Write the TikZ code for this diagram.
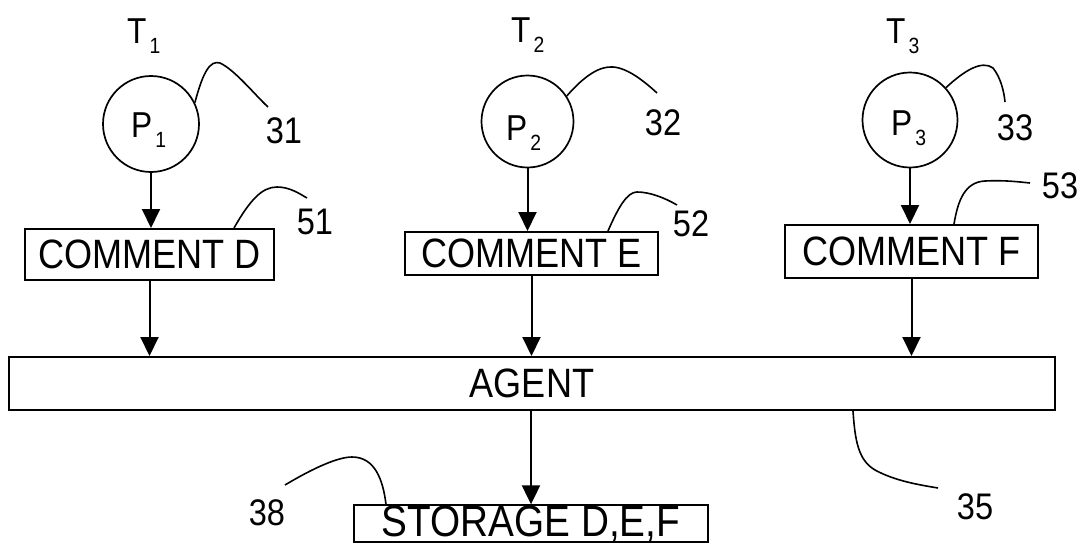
\documentclass[tikz,border=0pt]{standalone}
\usepackage{fontspec}
\setmainfont{Liberation Sans}[FakeStretch=0.88]
\usetikzlibrary{arrows.meta}
\newcommand\withsub[2]{#1\kern3pt\raisebox{-10pt}{\fontsize{22}{22}\selectfont #2}}
\begin{document}
\begin{tikzpicture}[x=1pt,y=-1pt,
  boxnode/.style={draw, line width=2pt, inner sep=0pt, font=\fontsize{41}{42}\selectfont},
  proc/.style={draw, circle, line width=1.7pt, inner sep=0pt},
  lab/.style={inner sep=0pt, font=\fontsize{36}{38}\selectfont, anchor=base west},
  num/.style={inner sep=0pt, font=\fontsize{37}{39}\selectfont},
  flow/.style={line width=2pt, -{Triangle[length=19pt,width=18pt]}},
  leader/.style={line width=1.6pt}]
\useasboundingbox (0,0) rectangle (1087,546);

% process circles
\node[proc, minimum size=96pt] (c1) at (151,124) {};
\node[proc, minimum size=92pt] (c2) at (527.5,121.5) {};
\node[proc, minimum size=95pt] (c3) at (910,120) {};

\node[lab] (p1) at (131,137) {\withsub{P}{1}};
\node[lab] (p2) at (506,140) {\withsub{P}{2}};
\node[lab] (p3) at (891,135) {\withsub{P}{3}};

\node[lab] (t1) at (127,43) {\withsub{T}{1}};
\node[lab] (t2) at (511,42) {\withsub{T}{2}};
\node[lab] (t3) at (886,43) {\withsub{T}{3}};

% comment boxes
\node[boxnode, minimum width=249pt, minimum height=51pt] (d) at (149.5,254.5) {COMMENT D};
\node[boxnode, minimum width=253pt, minimum height=43pt] (e) at (531.5,253.5) {COMMENT E};
\node[boxnode, minimum width=253pt, minimum height=53pt] (f) at (911.5,251.5) {COMMENT F};

% agent and storage
\node[boxnode, minimum width=1046pt, minimum height=53pt] (agent) at (532,383.5) {AGENT};
\node[boxnode, minimum width=354pt, minimum height=35pt, font=\fontsize{44}{45}\selectfont] (st) at (531,523.5) {STORAGE D,E,F};

% flows
\draw[flow] (c1.south) -- (c1.south |- d.north);
\draw[flow] (c2.south) -- (c2.south |- e.north);
\draw[flow] (c3.south) -- (c3.south |- f.north);
\draw[flow] (d.south) -- (d.south |- agent.north);
\draw[flow] (e.south) -- (e.south |- agent.north);
\draw[flow] (f.south) -- (f.south |- agent.north);
\draw[flow] (st.north |- agent.south) -- (st.north);

% reference numbers
\node[num] (n31) at (284,131) {31};
\node[num] (n32) at (663,123) {32};
\node[num] (n33) at (1015,128) {33};
\node[num] (n51) at (315,222) {51};
\node[num] (n52) at (691,224) {52};
\node[num] (n53) at (1060,186) {53};
\node[num] (n35) at (975,507) {35};
\node[num] (n38) at (267,513) {38};

% leader end points
\coordinate (e31) at (268,107);
\coordinate (e32) at (657,93);
\coordinate (e33) at (1005,102);
\coordinate (e51) at (307,198);
\coordinate (e52) at (677,205);
\coordinate (e53) at (1030,183);
\coordinate (e35) at (938,488);
\coordinate (e38) at (285,485);

% leaders
\draw[leader] (c1.26) .. controls (203,72) and (210,60) .. (220,63) .. controls (235,70) and (255,95) .. (e31);
\draw[leader] (c2.33) .. controls (585,75) and (600,66) .. (613,67) .. controls (628,68) and (645,82) .. (e32);
\draw[leader] (c3.42) .. controls (965,70) and (982,60) .. (993,68) .. controls (1001,78) and (1004,92) .. (e33);
\draw[leader] ([xshift=-41pt]d.north east) .. controls (250,200) and (262,187) .. (277,187) .. controls (290,187) and (300,194) .. (e51);
\draw[leader] ([xshift=-51pt]e.north east) .. controls (618,208) and (627,192) .. (637,192) .. controls (650,192) and (665,198) .. (e52);
\draw[leader] ([xshift=-85pt]f.north east) .. controls (958,200) and (965,182) .. (985,181) .. controls (1005,180) and (1020,182) .. (e53);
\draw[leader] ([xshift=-203pt]agent.south east) .. controls (855,440) and (858,460) .. (875,470) .. controls (895,481) and (920,485) .. (e35);
\draw[leader] ([xshift=33pt]st.north west) .. controls (383,480) and (375,457) .. (352,457) .. controls (335,457) and (305,473) .. (e38);
\end{tikzpicture}
\end{document}
